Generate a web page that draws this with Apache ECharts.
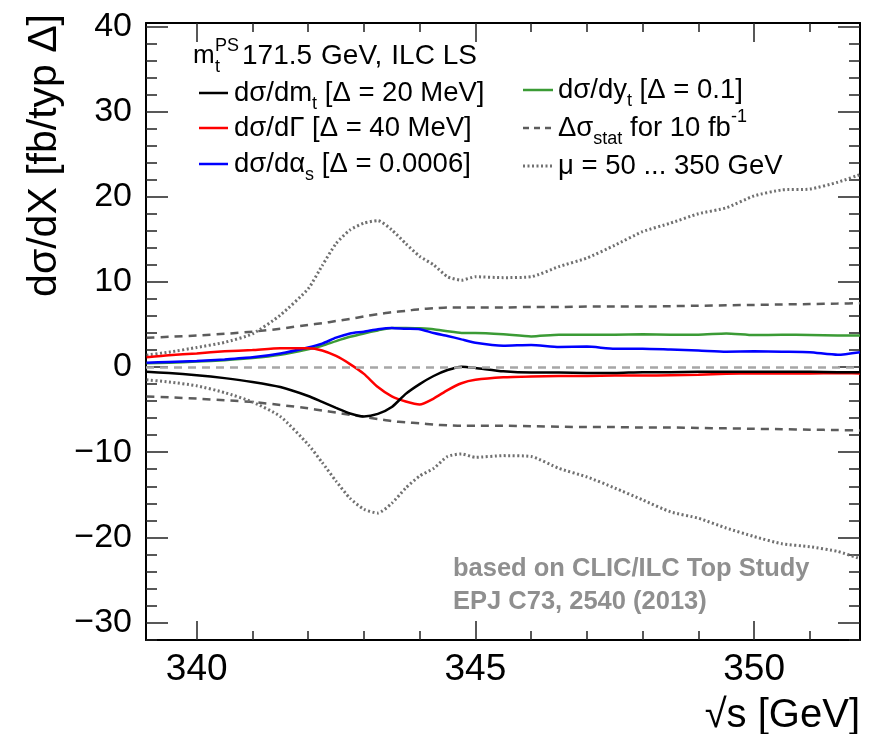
<!DOCTYPE html>
<html>
<head>
<meta charset="utf-8">
<script src="https://cdn.jsdelivr.net/npm/echarts@6/dist/echarts.min.js"></script>
<style>
  html, body { margin: 0; padding: 0; background: #fff; }
  #chart { width: 872px; height: 734px; }
</style>
</head>
<body>
<div id="chart"></div>
<script>
  "use strict";

  const FONT = "'Liberation Sans', Arial, sans-serif";
  const X_MIN = 339.09, X_MAX = 351.9;
  const Y_MIN = -32.05, Y_MAX = 40.4;

  // tick positions
  const X_MAJOR = [340, 345, 350];
  const X_MINOR = [340, 341, 342, 343, 344, 345, 346, 347, 348, 349, 350, 351];
  const Y_MAJOR = [-30, -20, -10, 0, 10, 20, 30, 40];
  const Y_MINOR = [-32, -30, -28, -26, -24, -22, -20, -18, -16, -14, -12, -10, -8, -6, -4, -2,
    0, 2, 4, 6, 8, 10, 12, 14, 16, 18, 20, 22, 24, 26, 28, 30, 32, 34, 36, 38, 40];

  // sqrt(s) sampling points [GeV]
  const xs = [339.1, 339.5, 340, 340.5, 341, 341.5, 342, 342.25, 342.5, 342.75, 343, 343.25,
    343.5, 343.75, 344, 344.25, 344.5, 344.75, 345, 345.5, 346, 346.5, 347, 347.5, 348, 348.5,
    349, 349.5, 350, 350.5, 351, 351.5, 351.9];

  const dMt = [-0.55, -0.7, -0.95, -1.3, -1.75, -2.35, -3.4, -4.1, -4.8, -5.45, -5.8, -5.5,
    -4.7, -3.15, -2.0, -1.05, -0.35, 0.05, -0.1, -0.5, -0.65, -0.65, -0.7, -0.7, -0.6, -0.6,
    -0.55, -0.55, -0.55, -0.55, -0.55, -0.6, -0.6];
  const dGamma = [1.15, 1.4, 1.6, 1.85, 2.0, 2.2, 2.2, 1.95, 1.3, 0.35, -0.8, -2.35,
    -3.45, -4.05, -4.4, -3.7, -2.7, -1.9, -1.5, -1.2, -1.1, -1.05, -1.05, -1.0, -1.0, -0.95,
    -0.9, -0.8, -0.75, -0.75, -0.75, -0.7, -0.75];
  const dAlphaS = [0.5, 0.6, 0.7, 0.9, 1.15, 1.6, 2.3, 2.75, 3.45, 3.95, 4.15, 4.45,
    4.6, 4.5, 4.45, 4.0, 3.65, 3.25, 2.85, 2.5, 2.6, 2.35, 2.4, 2.15, 2.15, 2.05,
    1.95, 1.8, 1.85, 1.8, 1.75, 1.45, 1.75];
  const dYt = [0.45, 0.5, 0.65, 0.8, 1.05, 1.45, 2.1, 2.5, 3.05, 3.55, 3.95, 4.3,
    4.6, 4.6, 4.55, 4.45, 4.2, 4.0, 4.0, 3.85, 3.6, 3.8, 3.8, 3.8, 3.85, 3.8,
    3.8, 3.95, 3.75, 3.8, 3.75, 3.7, 3.7];
  const statUp = [3.45, 3.55, 3.7, 3.9, 4.15, 4.5, 4.95, 5.15, 5.4, 5.65, 5.95, 6.2,
    6.45, 6.6, 6.8, 6.9, 7.0, 7.0, 7.0, 7.0, 7.05, 7.05, 7.1, 7.1, 7.1, 7.15,
    7.2, 7.25, 7.3, 7.35, 7.4, 7.45, 7.5];
  const statDown = [-3.45, -3.55, -3.7, -3.9, -4.1, -4.45, -4.85, -5.1, -5.35, -5.6, -5.85, -6.1,
    -6.35, -6.5, -6.6, -6.75, -6.85, -6.9, -6.9, -6.9, -6.95, -7.0, -7.05, -7.05, -7.1, -7.1,
    -7.15, -7.2, -7.25, -7.3, -7.35, -7.4, -7.45];
  const muUp = [1.4, 1.75, 2.3, 2.9, 3.9, 6.1, 9.2, 11.9, 14.5, 16.1, 16.9, 17.2,
    16.1, 14.5, 13.0, 12.0, 10.6, 10.2, 10.6, 10.5, 10.6, 11.8, 12.8, 14.3, 15.9, 16.9,
    18.0, 18.7, 20.1, 20.8, 20.9, 21.7, 22.6];
  const muDown = [-1.5, -1.75, -2.2, -3.0, -4.1, -5.8, -9.1, -11.2, -13.4, -15.4, -16.7, -17.15,
    -16.0, -14.2, -12.8, -11.9, -10.5, -10.2, -10.6, -10.4, -10.5, -11.9, -12.9, -14.2, -15.6, -17.0,
    -17.75, -18.9, -19.9, -20.75, -21.1, -21.65, -22.5];

  const GREY_DASH = "#5c5c5c";
  const GREY_DOT = "#707070";
  const GREEN = "#3b9b35";
  const LEG_SIZE = 27.5;

  function pairs(ys) {
    return xs.map((x, i) => [x, ys[i]]);
  }

  function minus(v) {
    return v < 0 ? "\u2212" + (-v) : String(v);
  }

  // one frame side = major-tick axis + minor-tick axis
  function xAxisPair(pos, labels) {
    const base = {
      type: "value", min: X_MIN, max: X_MAX, position: pos, splitLine: { show: false },
    };
    return [
      Object.assign({}, base, {
        axisLine: { show: true, onZero: false, lineStyle: { color: "#000", width: 2 } },
        axisTick: { show: true, inside: true, length: 19, customValues: X_MAJOR,
          lineStyle: { color: "#222", width: 1.5 } },
        axisLabel: labels
          ? { show: true, customValues: X_MAJOR, fontSize: 37, fontFamily: FONT, color: "#000", margin: 11 }
          : { show: false },
      }),
      Object.assign({}, base, {
        axisLine: { show: false, onZero: false },
        axisTick: { show: true, inside: true, length: 9, customValues: X_MINOR,
          lineStyle: { color: "#222", width: 1.5 } },
        axisLabel: { show: false },
      }),
    ];
  }

  function yAxisPair(pos, labels) {
    const base = {
      type: "value", min: Y_MIN, max: Y_MAX, position: pos, splitLine: { show: false },
    };
    return [
      Object.assign({}, base, {
        axisLine: { show: true, onZero: false, lineStyle: { color: "#000", width: 2 } },
        axisTick: { show: true, inside: true, length: 22, customValues: Y_MAJOR,
          lineStyle: { color: "#222", width: 1.5 } },
        axisLabel: labels
          ? { show: true, customValues: Y_MAJOR, fontSize: 34, fontFamily: FONT, color: "#000",
              margin: 14, formatter: minus }
          : { show: false },
      }),
      Object.assign({}, base, {
        axisLine: { show: false, onZero: false },
        axisTick: { show: true, inside: true, length: 11, customValues: Y_MINOR,
          lineStyle: { color: "#222", width: 1.5 } },
        axisLabel: { show: false },
      }),
    ];
  }

  function line(name, ys, color, width, dash, extra) {
    return Object.assign({
      name, type: "line", data: pairs(ys), showSymbol: false, smooth: 0.2,
      xAxisIndex: 0, yAxisIndex: 0,
      lineStyle: { color, width, type: dash || "solid", cap: "butt" },
    }, extra || {});
  }

  // legend text styles
  const rich = {
    sub: { fontSize: 18, fontFamily: FONT, color: "#000", verticalAlign: "bottom", lineHeight: 18 },
    sup: { fontSize: 18, fontFamily: FONT, color: "#000", verticalAlign: "top", lineHeight: 18 },
    gap: { width: 9 },
  };
  function legText(x, y, text, size) {
    return {
      type: "text", x, y,
      style: { text, fontSize: size || LEG_SIZE, fontFamily: FONT, fill: "#000", lineHeight: 40,
        verticalAlign: "middle", align: "left", rich },
    };
  }
  function smallText(x, y, text) {
    return {
      type: "text", x, y,
      style: { text, fontSize: 18, fontFamily: FONT, fill: "#000", verticalAlign: "middle" },
    };
  }
  function legLine(x1, x2, y, color, width, dash) {
    return {
      type: "line", shape: { x1, y1: y, x2, y2: y },
      style: { stroke: color, lineWidth: width, lineDash: dash || null },
    };
  }

  const chartEl = document.getElementById("chart");
  const inst = echarts.init(chartEl, null, { renderer: "canvas" });

  inst.setOption({
    animation: false,
    backgroundColor: "#fff",
    grid: { left: 146, right: 12, top: 23, bottom: 94, outerBoundsMode: "none" },
    xAxis: [].concat(xAxisPair("bottom", true), xAxisPair("top", false)),
    yAxis: [].concat(yAxisPair("left", true), yAxisPair("right", false)),
    series: [
      line("zero", [], "#000", 0, null, {
        markLine: {
          symbol: "none", silent: true, label: { show: false },
          lineStyle: { color: "#a6a6a6", type: [8, 6], width: 2.5 },
          data: [{ yAxis: 0 }],
        },
      }),
      line("statUp", statUp, GREY_DASH, 2.5, [8, 6]),
      line("statDown", statDown, GREY_DASH, 2.5, [8, 6]),
      line("muUp", muUp, GREY_DOT, 3, [2, 2.5]),
      line("muDown", muDown, GREY_DOT, 3, [2, 2.5]),
      line("dyt", dYt, GREEN, 2.5),
      line("dalphas", dAlphaS, "#0000ff", 2.5),
      line("dgamma", dGamma, "#ff0000", 2.5),
      line("dmt", dMt, "#000000", 2.5),
    ],
    graphic: [
      // axis titles
      {
        type: "text", x: 45, y: 14, rotation: Math.PI / 2,
        style: { text: "d\u03c3/dX [fb/typ \u0394]", fontSize: 41, fontFamily: FONT, fill: "#000",
          align: "right", verticalAlign: "middle" },
      },
      {
        type: "text", x: 860, y: 716,
        style: { text: "\u221as [GeV]", fontSize: 40, fontFamily: FONT, fill: "#000",
          align: "right", verticalAlign: "middle" },
      },
      // legend header: m_t^PS 171.5 GeV, ILC LS
      legText(193, 56, "m", 26),
      smallText(215, 46, "PS"),
      smallText(215, 67, "t"),
      legText(242, 56, "171.5{gap|}GeV,{gap|}ILC LS", 28),
      // left column
      legLine(199, 228, 93, "#000", 2.5),
      legText(234, 93, "d\u03c3/dm{sub|t} [\u0394 = 20 MeV]"),
      legLine(199, 228, 128, "#ff0000", 2.5),
      legText(234, 128, "d\u03c3/d\u0393 [\u0394 = 40 MeV]"),
      legLine(199, 228, 164, "#0000ff", 2.5),
      legText(234, 164, "d\u03c3/d\u03b1{sub|s} [\u0394 = 0.0006]"),
      // right column
      legLine(523, 553, 90, GREEN, 2.5),
      legText(558, 90, "d\u03c3/dy{sub|t} [\u0394 = 0.1]"),
      legLine(523, 553, 128, GREY_DASH, 2.5, [6, 5]),
      legText(558, 128, "\u0394\u03c3{sub|stat} for 10 fb{sup|-1}"),
      legLine(523, 553, 166, GREY_DOT, 3, [2, 2.5]),
      legText(558, 166, "\u03bc = 50 ... 350 GeV"),
      // source note
      {
        type: "text", x: 453, y: 569,
        style: { text: "based on CLIC/ILC Top Study", fontSize: 25.5, fontWeight: "bold",
          fontFamily: FONT, fill: "#8f8f8f", verticalAlign: "middle" },
      },
      {
        type: "text", x: 453, y: 602,
        style: { text: "EPJ C73, 2540 (2013)", fontSize: 25.5, fontWeight: "bold",
          fontFamily: FONT, fill: "#8f8f8f", verticalAlign: "middle" },
      },
    ],
  });

  window.addEventListener("resize", () => inst.resize());
</script>
</body>
</html>
